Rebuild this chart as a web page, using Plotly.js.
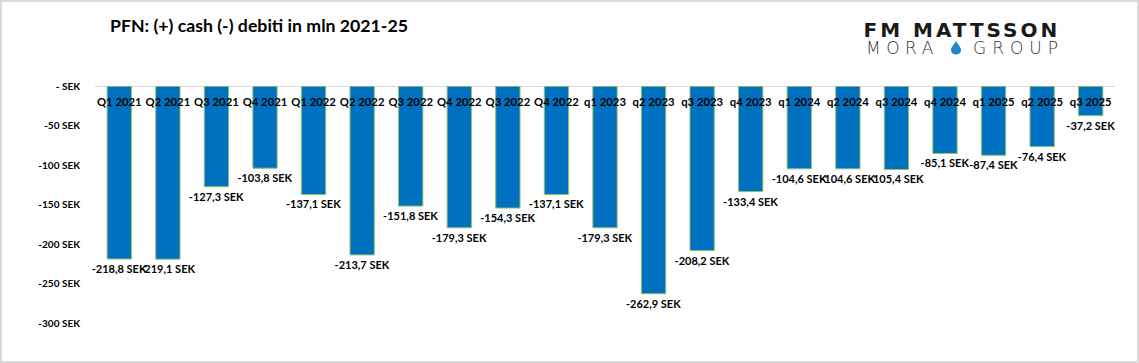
<!DOCTYPE html>
<html>
<head>
<meta charset="utf-8">
<script src="https://cdn.plot.ly/plotly-3.0.1.min.js"></script>
<style>
  html, body { margin: 0; padding: 0; background: #fff; }
  #wrap { position: relative; width: 1139px; height: 363px; }
  #chart { width: 1139px; height: 363px; }
  #frame { position: absolute; left: 0; top: 0; width: 1139px; height: 363px; box-sizing: border-box; border: 2px solid #d9d9d9; pointer-events: none; }
  g.annotation[data-index="0"] text { letter-spacing: 3px; }
  g.annotation[data-index="1"] text { letter-spacing: 5.5px; }
  g.annotation[data-index="2"] text { letter-spacing: 6px; }
</style>
</head>
<body>
<div id="wrap"><div id="chart"></div><div id="frame"></div></div>
<script>
const categories = ["Q1 2021","Q2 2021","Q3 2021","Q4 2021","Q1 2022","Q2 2022","Q3 2022","Q4 2022","Q3 2022","Q4 2022",
  "q1 2023","q2 2023","q3 2023","q4 2023","q1 2024","q2 2024","q3 2024","q4 2024","q1 2025","q2 2025","q3 2025"];
const values = [-218.8,-219.1,-127.3,-103.8,-137.1,-213.7,-151.8,-179.3,-154.3,-137.1,
  -179.3,-262.9,-208.2,-133.4,-104.6,-104.6,-105.4,-85.1,-87.4,-76.4,-37.2];
const yTickVals = [0,-50,-100,-150,-200,-250,-300];
const yTickText = ["- SEK","-50 SEK","-100 SEK","-150 SEK","-200 SEK","-250 SEK","-300 SEK"];
const titleText = "PFN: (+) cash (-) debiti in mln 2021-25";

const xs = categories.map((c, i) => i);
const labels = values.map(v => v.toFixed(1).replace('.', ',') + ' SEK');

const FONT = 'Lato, "Open Sans", sans-serif';

const trace = {
  type: 'bar',
  x: xs,
  y: values,
  text: labels,
  textposition: 'outside',
  constraintext: 'none',
  cliponaxis: false,
  textfont: { family: FONT, size: 11, color: '#000', weight: 'bold' },
  marker: { color: '#0070C0', line: { color: '#8DC06A', width: 1 } },
  hoverinfo: 'skip'
};

const layout = {
  width: 1139, height: 363,
  margin: { l: 95, r: 24, t: 86, b: 40 },
  paper_bgcolor: '#fff', plot_bgcolor: '#fff',
  showlegend: false,
  bargap: 0.5,
  title: {
    text: titleText,
    font: { family: FONT, size: 17.7, color: '#000', weight: 'bold' },
    x: 110/1139, xanchor: 'left', xref: 'container',
    y: 1 - 26/363, yanchor: 'middle', yref: 'container'
  },
  xaxis: {
    range: [-0.5, 20.5],
    side: 'top',
    anchor: 'free',
    position: (323 - 108) / 237.3,
    tickvals: xs,
    ticktext: categories,
    tickangle: 0,
    ticks: '',
    showline: false,
    showgrid: false, zeroline: false,
    tickfont: { family: FONT, size: 11.3, color: '#000', weight: 'bold' },
    fixedrange: true
  },
  yaxis: {
    range: [-300, 0.4],
    tickvals: yTickVals,
    ticktext: yTickText,
    showgrid: false, showline: false,
    zeroline: true, zerolinecolor: '#d9d9d9', zerolinewidth: 1,
    ticks: '',
    ticklabelstandoff: 14,
    tickfont: { family: FONT, size: 10, color: '#000', weight: 'bold' },
    fixedrange: true
  },
  annotations: [
    { text: 'FM MATTSSON', xref: 'paper', yref: 'paper', x: (961.5-95)/1020, y: (323-30)/237,
      xanchor: 'center', yanchor: 'middle', showarrow: false,
      font: { family: '"DejaVu Sans", sans-serif', size: 20, color: '#1a1a1a', weight: 'bold' } },
    { text: 'MORA', xref: 'paper', yref: 'paper', x: (902-95)/1020, y: (323-48)/237,
      xanchor: 'center', yanchor: 'middle', showarrow: false,
      font: { family: '"DejaVu Sans", sans-serif', size: 17, color: '#333', weight: 200 } },
    { text: 'GROUP', xref: 'paper', yref: 'paper', x: (1018.5-95)/1020, y: (323-48)/237,
      xanchor: 'center', yanchor: 'middle', showarrow: false,
      font: { family: '"DejaVu Sans", sans-serif', size: 17, color: '#333', weight: 200 } }
  ],
  shapes: [
    { type: 'path', xref: 'paper', yref: 'paper', xsizemode: 'pixel', ysizemode: 'pixel',
      xanchor: (956-95)/1020, yanchor: (323-48)/237,
      path: 'M 0 7 C 1.5 4, 5 1, 5 -2 C 5 -8, -5 -8, -5 -2 C -5 1, -1.5 4, 0 7 Z',
      fillcolor: '#1f86d0', line: { width: 0 } }
  ]
};

Plotly.newPlot('chart', [trace], layout, { displayModeBar: false, staticPlot: true });
</script>
</body>
</html>
